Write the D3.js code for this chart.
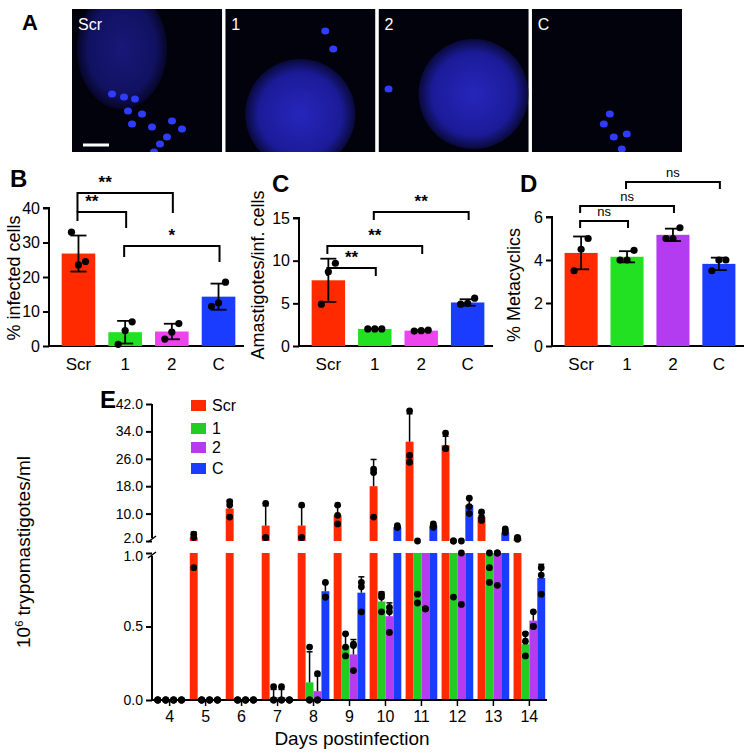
<!DOCTYPE html>
<html><head><meta charset="utf-8">
<script src="https://cdn.jsdelivr.net/npm/d3@7"></script>
<style>body{margin:0;background:#fff}svg{display:block}text{font-family:"Liberation Sans Narrow","Liberation Sans",Arial,sans-serif}</style>
</head><body>
<svg id="c" width="750" height="756"></svg>
<script>
const groups = ["Scr","1","2","C"];
// Panel B
const bMean = [26.8, 4.0, 4.2, 14.3];
const bPts = [[33,23.5,24.5],[0.5,4.5,7],[2,4,6.5],[11.5,12.5,18.5]];
const bTicks = [0,10,20,30,40];
// Panel C
const cMean = [7.7, 2.0, 1.8, 5.1];
const cPts = [[4.9,8.7,9.7],[2,2,2],[1.75,1.8,1.85],[4.9,5.0,5.6]];
const cTicks = [0,5,10,15];
// Panel D
const dMean = [4.33, 4.15, 5.17, 3.82];
const dPts = [[3.5,4.5,5.0],[4.0,4.0,4.45],[5.0,5.0,5.5],[3.5,4.0,4.0]];
const dTicks = [0,2,4,6];
// Panel E
const days = [4,5,6,7,8,9,10,11,12,13,14];
const eScr = [0,3,11.5,6.5,6.5,9.5,18,31,30,9,2.8];
const eS1  = [0,0,0,0.02,0.12,0.37,0.67,1.2,1.2,1.2,0.38];
const eS2  = [0,0,0,0.02,0.06,0.31,0.57,1.2,1.3,1.2,0.54];
const eSC  = [0,0,0,0,0.74,0.73,6,6.5,12.5,4.5,0.83];
const ePtsScr = [[0,0,0],[0.9,3,4],[9,12.5,13.5],[3,3,13],[3,3,12.5],[7,9.5,12.5],[9,22,23],[25,27,40],[29,29,33.5],[8,9,10.5],[2.5,3,3]];
const ePts1 = [[0,0,0],[0,0,0],[0,0,0],[0,0,0.09],[0,0,0.36],[0.3,0.36,0.45],[0.6,0.7,0.72],[0.66,0.72,2],[0.7,2,2],[0.8,0.9,1.0],[0.3,0.4,0.45]];
const ePts2 = [[0,0,0],[0,0,0],[0,0,0],[0,0.09,0],[0,0,0.18],[0.2,0.37,0.38],[0.46,0.6,0.63],[0.62,0.62,0.62],[0.65,1.0,2],[0.78,1.0,1.0],[0.5,0.5,0.6]];
const ePtsC = [[0,0,0],[0,0,0],[0,0,0],[0,0,0],[0.7,0.7,0.8],[0.6,0.77,0.8],[6,6,6.5],[6,6.5,7],[10,12,14.5],[4.5,5,5.5],[0.72,0.85,0.9]];
const eTopTicks = [2,10,18,26,34,42];
const eLowTicks = [0,0.5,1.0];
// Panel A images
const imgLabels = ["Scr","1","2","C"];
const nuclei = [[50,40,45,60],[75,105,55,55],[95,85,55,55],[0,0,0,0]];
const parasites = [
 [[40,85],[52,88],[63,90],[56,102],[70,105],[60,115],[80,118],[100,112],[110,120],[95,128],[88,135],[82,143]],
 [[100,22],[108,40]],
 [[10,80]],
 [[72,115],[82,128],[95,125],[90,140],[78,105]]];

const svg = d3.select("#c");
const fmt1 = d3.format(".1f");
function sd(a){return d3.deviation(a)||0;}

// ---- Panel A
svg.append("text").attr("x",22).attr("y",30).attr("font-size",22).attr("font-weight","bold").attr("font-family","Liberation Sans,Arial").text("A");
const defs = svg.append("defs");
const rg = defs.append("radialGradient").attr("id","nuc");
rg.append("stop").attr("offset","0%").attr("stop-color","#2a2ad0");
rg.append("stop").attr("offset","75%").attr("stop-color","#1e1ea8");
rg.append("stop").attr("offset","100%").attr("stop-color","#0a0a40");
const imgX = d3.scaleBand().domain(imgLabels).range([72,682]).paddingInner(0.02);
imgLabels.forEach((l,i)=>{
  const g = svg.append("g").attr("transform",`translate(${imgX(l)},9)`);
  const w = imgX.bandwidth();
  g.append("clipPath").attr("id","cl"+i).append("rect").attr("width",w).attr("height",143);
  const gg = g.append("g").attr("clip-path",`url(#cl${i})`);
  gg.append("rect").attr("width",w).attr("height",143).attr("fill","#02020c");
  const n = nuclei[i];
  if(n[2]>0) gg.append("ellipse").attr("cx",n[0]).attr("cy",n[1]).attr("rx",n[2]).attr("ry",n[3]).attr("fill","url(#nuc)").attr("opacity",i==0?0.55:0.9);
  parasites[i].forEach(p=>gg.append("ellipse").attr("cx",p[0]).attr("cy",p[1]).attr("rx",4).attr("ry",3.5).attr("fill","#2f3cff"));
  g.append("text").attr("x",6).attr("y",21).attr("fill","#fff").attr("font-size",16).text(l);
  if(i==0) g.append("line").attr("x1",11).attr("x2",37).attr("y1",136).attr("y2",136).attr("stroke","#fff").attr("stroke-width",3);
});

// ---- Small bar panels
function panel(o){
  const y = d3.scaleLinear().domain([0,o.max]).range([346,o.top]);
  const x = d3.scaleBand().domain(groups).range([o.ax+8,o.ax+o.w]).paddingInner(0.28).paddingOuter(0.1);
  const g = svg.append("g");
  g.append("g").attr("transform",`translate(${o.ax},0)`).call(d3.axisLeft(y).tickValues(o.ticks).tickSize(6).tickFormat(d3.format("d")))
   .call(a=>{a.selectAll("text").attr("font-size",16).attr("fill","#000");a.selectAll("path,line").attr("stroke","#000").attr("stroke-width",2);a.select(".domain").attr("d",`M-6,${o.top}H0V346`);});
  g.append("line").attr("x1",o.ax).attr("x2",o.ax+o.w+4).attr("y1",346).attr("y2",346).attr("stroke","#000").attr("stroke-width",2);
  g.selectAll(".xl").data(groups).join("text").attr("x",d=>x(d)+x.bandwidth()/2).attr("y",370).attr("text-anchor","middle").attr("font-size",17).text(d=>d);
  g.selectAll(".bar").data(o.mean).join("rect").attr("x",(d,i)=>x(groups[i])).attr("width",x.bandwidth()).attr("y",d=>y(d)).attr("height",d=>346-y(d)).attr("fill",(d,i)=>o.colors[i]);
  o.mean.forEach((m,i)=>{
    const cx = x(groups[i])+x.bandwidth()/2, s = sd(o.pts[i]);
    g.append("line").attr("x1",cx).attr("x2",cx).attr("y1",y(m+s)).attr("y2",y(Math.max(0,m-s))).attr("stroke","#000").attr("stroke-width",1.8);
    [m+s,m-s].forEach(v=>{ if(v>0) g.append("line").attr("x1",cx-8).attr("x2",cx+8).attr("y1",y(v)).attr("y2",y(v)).attr("stroke","#000").attr("stroke-width",1.8);});
    g.selectAll(null).data(o.pts[i]).join("circle").attr("cx",(d,j)=>cx+(j-1)*7).attr("cy",d=>y(d)).attr("r",3.6).attr("fill","#000");
  });
  o.brackets.forEach(b=>{
    const x1 = x(groups[b[0]])+x.bandwidth()/2-1, x2 = x(groups[b[1]])+x.bandwidth()/2+1;
    g.append("path").attr("d",`M${x1},${b[3]}V${b[2]}H${x2}V${b[4]}`).attr("fill","none").attr("stroke","#000").attr("stroke-width",2);
    g.append("text").attr("x",(x1+x2)/2+(b[6]||0)).attr("y",b[2]-5).attr("text-anchor","middle").attr("font-size",b[5]=="ns"?13:17).attr("font-weight",b[5]=="ns"?"normal":"bold").attr("font-family",b[5]=="ns"?null:"Liberation Sans,Arial").text(b[5]);
  });
  svg.append("text").attr("transform",`translate(${o.lx},${o.ly}) rotate(-90)`).attr("text-anchor","middle").attr("font-size",18).text(o.label);
  svg.append("text").attr("x",o.px).attr("y",o.py).attr("font-size",24).attr("font-weight","bold").attr("font-family","Liberation Sans,Arial").text(o.letter);
}
panel({ax:49,w:191,top:208,max:40,ticks:bTicks,mean:bMean,pts:bPts,colors:["#ff2a00","#22e022","#ee44ee","#1a3cff"],
  brackets:[[0,1,212,221,228,"**",-10],[0,2,193,212,213,"**",-20],[1,3,246,257,262,"*"]],label:"% infected cells",lx:20,ly:278,letter:"B",px:10,py:187});
panel({ax:299,w:190,top:218,max:15,ticks:cTicks,mean:cMean,pts:cPts,colors:["#ff2a00","#22e022","#ee44ee","#1a3cff"],
  brackets:[[0,1,268,276,276,"**"],[0,2,246,254,254,"**"],[1,3,212,220,220,"**"]],label:"Amastigotes/inf. cells",lx:264,ly:275,letter:"C",px:272,py:192});
panel({ax:552,w:188,top:217,max:6,ticks:dTicks,mean:dMean,pts:dPts,colors:["#ff2a00","#22e022","#b43cf0","#1a3cff"],
  brackets:[[0,1,221,228,228,"ns"],[0,2,206,213,213,"ns"],[1,3,182,189,189,"ns"]],label:"% Metacyclics",lx:520,ly:285,letter:"D",px:520,py:192});

// ---- Panel E
const series = [
 {name:"Scr",v:eScr,p:ePtsScr,c:"#ff2a00"},
 {name:"1",v:eS1,p:ePts1,c:"#22cc22"},
 {name:"2",v:eS2,p:ePts2,c:"#b43cf0"},
 {name:"C",v:eSC,p:ePtsC,c:"#1a3cff"}];
const ax0 = 152, yTop = d3.scaleLinear().domain([2,42]).range([541,404]), yLow = d3.scaleLinear().domain([0,1]).range([700,553]);
function ye(v){return v<=1?yLow(v):(v<2?yLow(1):yTop(v));}
const xd = d3.scaleBand().domain(days).range([ax0+0,ax0+395]).paddingInner(0.12).paddingOuter(0.05);
const xs = d3.scaleBand().domain(series.map(s=>s.name)).range([0,xd.bandwidth()]);
const gE = svg.append("g");
series.forEach(s=>{
  s.v.forEach((v,i)=>{
    const x = xd(days[i])+xs(s.name), w = xs.bandwidth();
    if(v>0){
      gE.append("rect").attr("x",x).attr("width",w).attr("y",yLow(Math.min(v,1))).attr("height",700-yLow(Math.min(v,1))).attr("fill",s.c);
      if(v>=2) gE.append("rect").attr("x",x).attr("width",w).attr("y",yTop(v)).attr("height",541-yTop(v)).attr("fill",s.c);
      const up = v+sd(s.p[i]);
      if(v>=2 || up<=1){ const y0=ye(v), y1=ye(up);
        if(y0-y1>2){ gE.append("line").attr("x1",x+w/2).attr("x2",x+w/2).attr("y1",y0).attr("y2",y1).attr("stroke","#000").attr("stroke-width",1.5);
          gE.append("line").attr("x1",x+w/2-3).attr("x2",x+w/2+3).attr("y1",y1).attr("y2",y1).attr("stroke","#000").attr("stroke-width",1.5);}}
    }
    s.p[i].forEach(p=>{ if(p>1&&p<2) return; gE.append("circle").attr("cx",x+w/2).attr("cy",ye(p)).attr("r",3.4).attr("fill","#000");});
  });
});
gE.append("g").attr("transform",`translate(${ax0},0)`).call(d3.axisLeft(yTop).tickValues(eTopTicks).tickSize(6).tickFormat(fmt1))
  .call(a=>{a.selectAll("text").attr("font-size",14).filter(d=>d==2).attr("dy","0.1em");a.selectAll("line,path").attr("stroke","#000").attr("stroke-width",2);a.select(".domain").attr("d","M0,404V538");});
gE.append("g").attr("transform",`translate(${ax0},0)`).call(d3.axisLeft(yLow).tickValues(eLowTicks).tickSize(6).tickFormat(fmt1))
  .call(a=>{a.selectAll("text").attr("font-size",14).filter(d=>d==1).attr("dy","0.55em");a.selectAll("line,path").attr("stroke","#000").attr("stroke-width",2);a.select(".domain").attr("d","M0,556V700");});
gE.append("path").attr("d",`M${ax0-4},542L${ax0+4},536M${ax0-4},558L${ax0+4},552`).attr("stroke","#000").attr("stroke-width",1.5);
gE.append("line").attr("x1",ax0).attr("x2",ax0+395).attr("y1",700).attr("y2",700).attr("stroke","#000").attr("stroke-width",2);
days.forEach(d=>{const cx=xd(d)+xd.bandwidth()/2;
  gE.append("line").attr("x1",cx).attr("x2",cx).attr("y1",700).attr("y2",706).attr("stroke","#000").attr("stroke-width",1.5);
  gE.append("text").attr("x",cx).attr("y",722).attr("text-anchor","middle").attr("font-size",16).text(d);});
gE.append("text").attr("x",352).attr("y",745).attr("text-anchor","middle").attr("font-size",19).text("Days postinfection");
const yl = gE.append("text").attr("transform","translate(30,552) rotate(-90)").attr("text-anchor","middle").attr("font-size",19);
yl.append("tspan").text("10");yl.append("tspan").attr("font-size",11).attr("dy",-7).text("6");yl.append("tspan").attr("dy",7).text(" trypomastigotes/ml");
gE.append("text").attr("x",100).attr("y",408).attr("font-size",24).attr("font-weight","bold").attr("font-family","Liberation Sans,Arial").text("E");
const legY = [400,423,442,463];
series.forEach((s,i)=>{
  gE.append("rect").attr("x",191).attr("y",legY[i]).attr("width",15).attr("height",11).attr("fill",s.c);
  gE.append("text").attr("x",212).attr("y",legY[i]+11).attr("font-size",16).text(s.name);
});
</script></body></html>
